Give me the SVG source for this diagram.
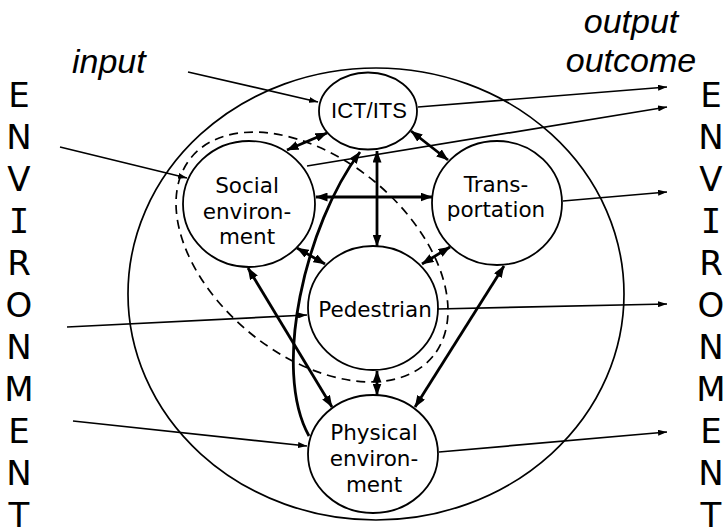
<svg xmlns="http://www.w3.org/2000/svg" width="728" height="528" viewBox="0 0 728 528">
  <defs>
    <!-- heavy arrowhead for the links between the core elements -->
    <marker id="head-bold" viewBox="0 0 12 9" refX="11.5" refY="4.5" markerWidth="12" markerHeight="9" markerUnits="userSpaceOnUse" orient="auto-start-reverse">
      <path d="M0,0 L12,4.5 L0,9 Z" fill="#000"/>
    </marker>
    <!-- light arrowhead for inputs and outputs -->
    <marker id="head-thin" viewBox="0 0 9 6" refX="9" refY="3" markerWidth="9" markerHeight="6" markerUnits="userSpaceOnUse" orient="auto">
      <path d="M0,0 L9,3 L0,6 Z" fill="#000"/>
    </marker>
  </defs>
  <style>
    .node ellipse { fill: #fff; stroke: #000; stroke-width: 1.8; }
    .lbl { font-family: "DejaVu Sans", Verdana, sans-serif; font-size: 21.5px; text-anchor: middle; fill: #000; }
    .its { font-family: "Liberation Sans", Arial, sans-serif; font-size: 22px; text-anchor: middle; fill: #000; }
    .big { font-family: "DejaVu Sans", Verdana, sans-serif; font-size: 34px; text-anchor: middle; fill: #000; }
    .serif-i { font-family: "DejaVu Sans Mono", monospace; }
    .cap { font-family: "Liberation Sans", Arial, sans-serif; font-style: italic; font-size: 34px; fill: #000; }
    .thin { fill: none; stroke: #000; stroke-width: 1.7; marker-end: url(#head-thin); }
    .bold { fill: none; stroke: #000; stroke-width: 2.8; marker-start: url(#head-bold); marker-end: url(#head-bold); }
  </style>

  <rect width="728" height="528" fill="#fff"/>

  <!-- vertical ENVIRONMENT captions -->
  <g id="environment-left" class="big">
    <text x="19" y="107">E</text>
    <text x="19" y="149">N</text>
    <text x="19" y="191">V</text>
    <text x="19" y="233" class="big serif-i">I</text>
    <text x="19" y="275">R</text>
    <text x="19" y="317">O</text>
    <text x="19" y="359">N</text>
    <text x="19" y="401">M</text>
    <text x="19" y="443">E</text>
    <text x="19" y="485">N</text>
    <text x="19" y="527">T</text>
  </g>
  <g id="environment-right" class="big">
    <text x="711" y="107">E</text>
    <text x="711" y="149">N</text>
    <text x="711" y="191">V</text>
    <text x="711" y="233" class="big serif-i">I</text>
    <text x="711" y="275">R</text>
    <text x="711" y="317">O</text>
    <text x="711" y="359">N</text>
    <text x="711" y="401">M</text>
    <text x="711" y="443">E</text>
    <text x="711" y="485">N</text>
    <text x="711" y="527">T</text>
  </g>

  <!-- side captions -->
  <g id="captions" class="cap">
    <text x="72" y="73">input</text>
    <text x="631" y="33" text-anchor="middle">output</text>
    <text x="631" y="72" text-anchor="middle">outcome</text>
  </g>

  <!-- system boundary -->
  <g id="system">
    <ellipse cx="376" cy="294" rx="248" ry="226" fill="none" stroke="#000" stroke-width="1.7"/>
  </g>

  <!-- dashed grouping around social environment and pedestrian -->
  <g id="human-domain">
    <ellipse cx="312" cy="257" rx="156.5" ry="98" transform="rotate(39.4 312 257)" fill="none" stroke="#000" stroke-width="1.7" stroke-dasharray="9 6"/>
  </g>

  <!-- nodes -->
  <g id="ict-its" class="node">
    <ellipse cx="368" cy="111" rx="49" ry="38.5"/>
    <text class="its" x="369" y="117.5">ICT/ITS</text>
  </g>
  <g id="social-environment" class="node">
    <ellipse cx="249" cy="204" rx="66" ry="63"/>
    <text class="lbl" x="247" y="193">Social</text>
    <text class="lbl" x="247" y="218.5">environ-</text>
    <text class="lbl" x="247" y="244">ment</text>
  </g>
  <g id="transportation" class="node">
    <ellipse cx="497" cy="203" rx="65" ry="62"/>
    <text class="lbl" x="496" y="192">Trans-</text>
    <text class="lbl" x="496" y="217">portation</text>
  </g>
  <g id="pedestrian" class="node">
    <ellipse cx="373" cy="308" rx="65" ry="62"/>
    <text class="lbl" x="375" y="317">Pedestrian</text>
  </g>
  <g id="physical-environment" class="node">
    <ellipse cx="373" cy="454" rx="65" ry="59"/>
    <text class="lbl" x="374" y="440">Physical</text>
    <text class="lbl" x="374" y="466">environ-</text>
    <text class="lbl" x="374" y="492">ment</text>
  </g>

  <!-- connectors -->
  <g id="connectors">
    <!-- inputs from the environment -->
    <line class="thin" x1="188" y1="72" x2="318" y2="102"/>
    <line class="thin" x1="60" y1="147" x2="187" y2="178"/>
    <line class="thin" x1="67" y1="327" x2="307" y2="315"/>
    <line class="thin" x1="73" y1="421" x2="307" y2="446"/>

    <!-- outputs to the environment -->
    <line class="thin" x1="418" y1="107" x2="667" y2="87"/>
    <line class="thin" x1="307" y1="166" x2="667" y2="107"/>
    <line class="thin" x1="563" y1="201" x2="667" y2="192"/>
    <line class="thin" x1="437" y1="309" x2="667" y2="304"/>
    <line class="thin" x1="439" y1="452" x2="667" y2="432"/>

    <!-- mutual influences -->
    <line class="bold" x1="287" y1="150" x2="327" y2="133"/>
    <line class="bold" x1="411" y1="131" x2="448" y2="160"/>
    <line class="bold" x1="377" y1="151" x2="377" y2="246"/>
    <line class="bold" x1="316" y1="197" x2="432" y2="197"/>
    <line class="bold" x1="297" y1="248" x2="325" y2="264"/>
    <line class="bold" x1="450" y1="247" x2="422" y2="264"/>
    <line class="bold" x1="377" y1="371" x2="377" y2="395"/>
    <line class="bold" x1="248" y1="268" x2="332" y2="407"/>
    <line class="bold" x1="504" y1="266" x2="415" y2="407"/>

    <!-- physical environment feeding ICT/ITS -->
    <path d="M309,436 C272,370 305,225 360,152" fill="none" stroke="#000" stroke-width="2.8" marker-end="url(#head-bold)"/>
  </g>
</svg>
